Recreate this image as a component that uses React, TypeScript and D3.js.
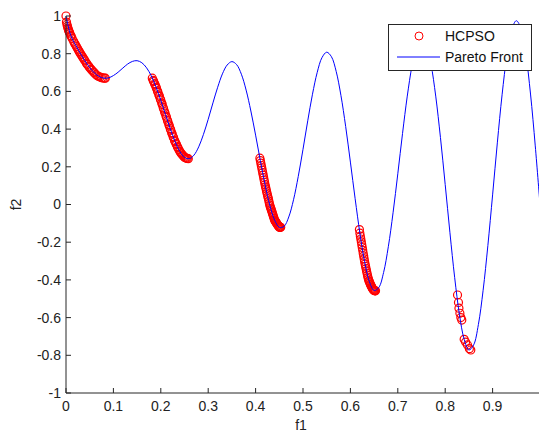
import React from "react";
import * as d3 from "d3";

const width = 539;
const height = 432;

// Pareto front
const frontF1 = [
  0, 0.01, 0.02, 0.03, 0.04, 0.05, 0.06, 0.07, 0.08, 0.09,
  0.1, 0.11, 0.12, 0.13, 0.14, 0.15, 0.16, 0.17, 0.18, 0.19,
  0.2, 0.21, 0.22, 0.23, 0.24, 0.25, 0.26, 0.27, 0.28, 0.29,
  0.3, 0.31, 0.32, 0.33, 0.34, 0.35, 0.36, 0.37, 0.38, 0.39,
  0.4, 0.41, 0.42, 0.43, 0.44, 0.45, 0.46, 0.47, 0.48, 0.49,
  0.5, 0.51, 0.52, 0.53, 0.54, 0.55, 0.56, 0.57, 0.58, 0.59,
  0.6, 0.61, 0.62, 0.63, 0.64, 0.65, 0.66, 0.67, 0.68, 0.69,
  0.7, 0.71, 0.72, 0.73, 0.74, 0.75, 0.76, 0.77, 0.78, 0.79,
  0.8, 0.81, 0.82, 0.83, 0.84, 0.85, 0.86, 0.87, 0.88, 0.89,
  0.9, 0.91, 0.92, 0.93, 0.94, 0.95, 0.96, 0.97, 0.98, 0.99, 1,
];
const frontF2 = [
  1, 0.897, 0.847, 0.803, 0.762, 0.726, 0.698, 0.679, 0.670, 0.672,
  0.684, 0.702, 0.724, 0.745, 0.759, 0.763, 0.752, 0.725, 0.682, 0.623,
  0.553, 0.477, 0.402, 0.334, 0.282, 0.25, 0.243, 0.262, 0.306, 0.372,
  0.452, 0.539, 0.622, 0.693, 0.740, 0.758, 0.742, 0.691, 0.607, 0.496,
  0.368, 0.233, 0.105, -0.004, -0.082, -0.121, -0.116, -0.066, 0.025, 0.149,
  0.293, 0.444, 0.585, 0.701, 0.779, 0.808, 0.784, 0.706, 0.579, 0.414,
  0.225, 0.031, -0.152, -0.303, -0.409, -0.456, -0.440, -0.361, -0.224, -0.044,
  0.163, 0.377, 0.575, 0.736, 0.844, 0.884, 0.851, 0.745, 0.575, 0.355,
  0.106, -0.150, -0.388, -0.583, -0.715, -0.772, -0.745, -0.637, -0.455, -0.218,
  0.051, 0.327, 0.582, 0.788, 0.925, 0.975, 0.933, 0.800, 0.586, 0.311, 0,
];

// HCPSO solutions (red circles)
const psoF1 = [
  0, 0.001, 0.002, 0.003, 0.004, 0.005, 0.006, 0.007, 0.008, 0.01, 0.011,
  0.013, 0.016, 0.018, 0.02, 0.022, 0.024, 0.026, 0.028, 0.03, 0.032, 0.034,
  0.036, 0.038, 0.04, 0.043, 0.045, 0.048, 0.05, 0.053, 0.055, 0.058, 0.06,
  0.063, 0.066, 0.069, 0.072, 0.075, 0.078, 0.081, 0.083,
  0.182, 0.184, 0.185, 0.187, 0.188, 0.19, 0.191, 0.193, 0.194, 0.196, 0.197,
  0.199, 0.2, 0.202, 0.203, 0.205, 0.206, 0.208, 0.209, 0.211, 0.212, 0.214,
  0.215, 0.217, 0.218, 0.22, 0.221, 0.223, 0.224, 0.226, 0.227, 0.229, 0.23,
  0.232, 0.233, 0.235, 0.236, 0.238, 0.24, 0.242, 0.244, 0.246, 0.248, 0.25,
  0.252, 0.254, 0.256, 0.258,
  0.409, 0.41, 0.411, 0.412, 0.413, 0.414, 0.415, 0.416, 0.417, 0.418, 0.419,
  0.42, 0.421, 0.422, 0.423, 0.424, 0.425, 0.426, 0.427, 0.428, 0.429, 0.43,
  0.431, 0.432, 0.433, 0.434, 0.435, 0.436, 0.437, 0.438, 0.439, 0.44, 0.441,
  0.442, 0.443, 0.444, 0.445, 0.446, 0.447, 0.448, 0.449, 0.45, 0.451, 0.452,
  0.453,
  0.619, 0.62, 0.621, 0.622, 0.623, 0.624, 0.625, 0.626, 0.627, 0.628, 0.629,
  0.63, 0.631, 0.632, 0.633, 0.634, 0.635, 0.636, 0.637, 0.638, 0.639, 0.64,
  0.641, 0.642, 0.643, 0.644, 0.645, 0.646, 0.647, 0.648, 0.649, 0.65, 0.651,
  0.652, 0.653,
  0.826, 0.828, 0.829, 0.831, 0.833, 0.835, 0.84, 0.843, 0.847, 0.851, 0.854,
];
const psoF2 = [
  1, 0.968, 0.955, 0.945, 0.936, 0.929, 0.921, 0.915, 0.909, 0.897, 0.892,
  0.881, 0.866, 0.856, 0.847, 0.838, 0.829, 0.82, 0.811, 0.803, 0.794, 0.786,
  0.778, 0.77, 0.762, 0.75, 0.743, 0.733, 0.726, 0.717, 0.711, 0.703, 0.698,
  0.69, 0.683, 0.679, 0.676, 0.673, 0.671, 0.67, 0.67,
  0.67, 0.658, 0.652, 0.641, 0.635, 0.623, 0.616, 0.602, 0.595, 0.581, 0.574,
  0.56, 0.553, 0.538, 0.53, 0.515, 0.507, 0.492, 0.484, 0.469, 0.462, 0.447,
  0.439, 0.424, 0.417, 0.402, 0.395, 0.381, 0.374, 0.36, 0.354, 0.34, 0.334,
  0.323, 0.318, 0.307, 0.302, 0.292, 0.282, 0.275, 0.268, 0.262, 0.256, 0.251,
  0.248, 0.246, 0.244, 0.243,
  0.246, 0.233, 0.22, 0.207, 0.195, 0.182, 0.169, 0.156, 0.143, 0.13, 0.118,
  0.105, 0.094, 0.083, 0.072, 0.061, 0.051, 0.04, 0.03, 0.018, 0.007, -0.004,
  -0.012, -0.02, -0.027, -0.035, -0.043, -0.05, -0.058, -0.066, -0.074, -0.082, -0.086,
  -0.09, -0.094, -0.098, -0.102, -0.106, -0.11, -0.113, -0.117, -0.121, -0.121, -0.121,
  -0.121,
  -0.133, -0.152, -0.168, -0.183, -0.198, -0.213, -0.228, -0.243, -0.258, -0.273, -0.288,
  -0.303, -0.316, -0.328, -0.34, -0.352, -0.364, -0.375, -0.386, -0.395, -0.404, -0.409,
  -0.416, -0.422, -0.428, -0.433, -0.438, -0.443, -0.447, -0.451, -0.454, -0.456, -0.457,
  -0.458, -0.458,
  -0.48, -0.52, -0.55, -0.577, -0.6, -0.613, -0.715, -0.73, -0.745, -0.765, -0.772,
];

const xTicks = [0, 0.1, 0.2, 0.3, 0.4, 0.5, 0.6, 0.7, 0.8, 0.9];
const yTicks = [-1, -0.8, -0.6, -0.4, -0.2, 0, 0.2, 0.4, 0.6, 0.8, 1];

const font = "'Liberation Sans', Arial, sans-serif";
const axisColor = "#262626";

export default function App() {
  const x = d3.scaleLinear().domain([0, 1]).range([66, 540]);
  const y = d3.scaleLinear().domain([-1, 1]).range([393, 16]);

  const front = frontF1.map((f, i) => [f, frontF2[i]] as [number, number]);
  const line = d3
    .line<[number, number]>()
    .x((d) => x(d[0]))
    .y((d) => y(d[1]))
    .curve(d3.curveCatmullRom.alpha(0.5));

  const fmt = (v: number) => String(Math.round(v * 10) / 10);

  return (
    <svg
      width={width}
      height={height}
      style={{ position: "absolute", left: 0, top: 0, background: "#fff" }}
    >
      <rect x={0} y={0} width={width} height={height} fill="#fff" />

      {psoF1.map((f, i) => (
        <circle
          key={i}
          cx={x(f)}
          cy={y(psoF2[i])}
          r={4}
          fill="none"
          stroke="#ff0000"
          strokeWidth={1.2}
        />
      ))}

      <path d={line(front) || ""} fill="none" stroke="#0000ff" strokeWidth={1} />

      {/* axes */}
      <line x1={x(0)} x2={x(0)} y1={y(1)} y2={y(-1)} stroke={axisColor} />
      <line x1={x(0)} x2={width} y1={y(-1)} y2={y(-1)} stroke={axisColor} />

      {xTicks.map((t) => (
        <g key={"x" + t}>
          <line x1={x(t)} x2={x(t)} y1={y(-1)} y2={y(-1) - 5} stroke={axisColor} />
          <text
            x={x(t)}
            y={411}
            textAnchor="middle"
            fontFamily={font}
            fontSize={14}
            fill="#222"
          >
            {fmt(t)}
          </text>
        </g>
      ))}

      {yTicks.map((t) => (
        <g key={"y" + t}>
          <line x1={x(0)} x2={x(0) + 5} y1={y(t)} y2={y(t)} stroke={axisColor} />
          <text
            x={61}
            y={y(t)}
            dy="0.35em"
            textAnchor="end"
            fontFamily={font}
            fontSize={14}
            fill="#222"
          >
            {fmt(t)}
          </text>
        </g>
      ))}

      <text x={301} y={430} textAnchor="middle" fontFamily={font} fontSize={14} fill="#222">
        f1
      </text>
      <text
        transform={`translate(21,${y(0)}) rotate(-90)`}
        textAnchor="middle"
        fontFamily={font}
        fontSize={14}
        fill="#222"
      >
        f2
      </text>

      {/* legend */}
      <g>
        <rect x={388.5} y={24.5} width={143} height={46} fill="#fff" stroke={axisColor} />
        <circle cx={419} cy={36} r={4} fill="none" stroke="#ff0000" />
        <text x={445} y={41} fontFamily={font} fontSize={14} fill="#111">
          HCPSO
        </text>
        <line x1={397} x2={440} y1={57} y2={57} stroke="#0000ff" />
        <text x={445} y={62} fontFamily={font} fontSize={14} fill="#111">
          Pareto Front
        </text>
      </g>
    </svg>
  );
}
